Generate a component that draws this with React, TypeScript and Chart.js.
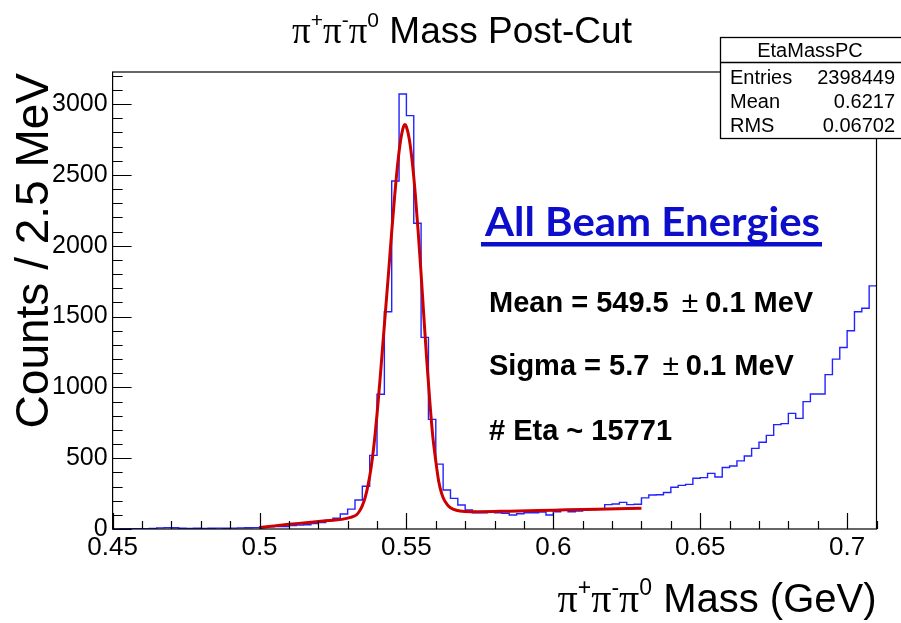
import React, { useEffect, useRef } from "react";
import { Chart, registerables } from "chart.js";

Chart.register(...registerables);

// ---- data ----
const BIN_START = 0.45; // GeV, low edge of first bin
const BIN_WIDTH = 0.0025; // GeV (2.5 MeV)
const COUNTS = [
  0, 2, 3, 2, 3, 4, 8, 10, 9, 5, 4, 5, 4, 5, 6, 5, 6, 8, 9, 10,
  14, 15, 17, 18, 25, 28, 30, 38, 45, 60, 76, 106, 140, 205, 302, 520, 951, 1534, 2457, 3071,
  2918, 2158, 1353, 774, 458, 275, 216, 169, 134, 115, 115, 122, 115, 111, 99, 108, 115, 115, 120, 99,
  122, 132, 122, 127, 134, 138, 140, 172, 176, 188, 172, 175, 220, 240, 242, 258, 295, 308, 315, 358,
  363, 393, 367, 434, 445, 481, 515, 569, 612, 661, 737, 744, 816, 781, 899, 953, 953, 1090, 1199, 1281,
  1399, 1534, 1558, 1716,
];

const FIT_MASS = [
  0.5, 0.505, 0.51, 0.515, 0.52, 0.525, 0.528, 0.531, 0.533, 0.534, 0.535, 0.536, 0.537, 0.538, 0.539,
  0.54, 0.541, 0.542, 0.543, 0.544, 0.545, 0.546, 0.547, 0.548, 0.549, 0.5495, 0.55, 0.551, 0.552,
  0.553, 0.554, 0.555, 0.556, 0.557, 0.558, 0.559, 0.56, 0.561, 0.562, 0.563, 0.564, 0.565, 0.567,
  0.57, 0.575, 0.585, 0.6, 0.615, 0.63,
];
const FIT_COUNTS = [
  10, 22, 33, 43, 53, 62, 68, 82, 100, 125, 165, 225, 315, 435, 600,
  810, 1050, 1310, 1570, 1830, 2100, 2350, 2570, 2740, 2840, 2855, 2840, 2750, 2590,
  2370, 2100, 1800, 1480, 1170, 890, 650, 480, 335, 250, 200, 170, 150, 132,
  124, 122, 126, 133, 140, 146,
];

const X_MIN = 0.45;
const X_MAX = 0.71;
const Y_MIN = 0;
const Y_MAX = 3226;
const X_TICKS = [0.45, 0.5, 0.55, 0.6, 0.65, 0.7];
const Y_TICKS = [0, 500, 1000, 1500, 2000, 2500, 3000];
const X_MINOR_STEP = 0.01;
const Y_MINOR_STEP = 100;

const STATS_NAME = "EtaMassPC";
const STATS_LABELS = ["Entries", "Mean", "RMS"];
const STATS_VALUES = ["2398449", "0.6217", "0.06702"];

const HEADLINE = "All Beam Energies";
const FIT_LABELS = ["Mean = 549.5", "Sigma = 5.7"];
const FIT_ERRORS = ["0.1 MeV", "0.1 MeV"];
const ETA_TEXT = "# Eta ~ 15771";

const SANS = "'Liberation Sans', Arial, Helvetica, sans-serif";
const SERIF = "'Liberation Serif', 'Times New Roman', serif";

type Part = { t: string; font: string; dy?: number };

function drawRich(ctx: CanvasRenderingContext2D, parts: Part[], x: number, y: number, align: "left" | "center" | "right") {
  ctx.textAlign = "left";
  ctx.textBaseline = "alphabetic";
  const widths = parts.map((p) => {
    ctx.font = p.font;
    return ctx.measureText(p.t).width;
  });
  const total = widths.reduce((a, b) => a + b, 0);
  let cx = align === "center" ? x - total / 2 : align === "right" ? x - total : x;
  parts.forEach((p, i) => {
    ctx.font = p.font;
    ctx.fillText(p.t, cx, y + (p.dy || 0));
    cx += widths[i];
  });
}

function pipipi(size: number, tail: string): Part[] {
  const sup = Math.round(size * 0.58);
  const dy = -Math.round(size * 0.42);
  return [
    { t: "\u03c0", font: `${size}px ${SERIF}` },
    { t: "+", font: `${sup}px ${SANS}`, dy },
    { t: "\u03c0", font: `${size}px ${SERIF}` },
    { t: "-", font: `${sup}px ${SANS}`, dy },
    { t: "\u03c0", font: `${size}px ${SERIF}` },
    { t: "0", font: `${sup}px ${SANS}`, dy },
    { t: tail, font: `${size}px ${SANS}` },
  ];
}

const rootStyle = {
  id: "rootStyle",
  beforeDraw(chart: any) {
    const ctx: CanvasRenderingContext2D = chart.ctx;
    ctx.save();
    ctx.fillStyle = "#ffffff";
    ctx.fillRect(0, 0, chart.width, chart.height);
    ctx.restore();
  },
  afterDraw(chart: any) {
    const ctx: CanvasRenderingContext2D = chart.ctx;
    const a = chart.chartArea;
    const xs = chart.scales.x;
    const ys = chart.scales.y;
    ctx.save();

    // frame
    ctx.strokeStyle = "#000";
    ctx.lineWidth = 1.2;
    ctx.strokeRect(a.left, a.top, a.right - a.left, a.bottom - a.top);

    // ticks (inside)
    ctx.lineWidth = 1.2;
    ctx.beginPath();
    const nx = Math.round((X_MAX - X_MIN) / X_MINOR_STEP);
    for (let i = 0; i <= nx; i++) {
      const v = X_MIN + i * X_MINOR_STEP;
      const px = Math.round(xs.getPixelForValue(v)) + 0.5;
      const major = X_TICKS.some((t) => Math.abs(t - v) < 1e-6);
      ctx.moveTo(px, a.bottom);
      ctx.lineTo(px, a.bottom - (major ? 16 : 8));
    }
    for (let v = Y_MIN; v <= Y_MAX; v += Y_MINOR_STEP) {
      const py = Math.round(ys.getPixelForValue(v)) + 0.5;
      const major = Y_TICKS.includes(v);
      ctx.moveTo(a.left, py);
      ctx.lineTo(a.left + (major ? 19 : 10), py);
    }
    ctx.stroke();

    ctx.fillStyle = "#000";
    // title
    drawRich(ctx, pipipi(37, " Mass Post-Cut"), 462, 43, "center");
    // x title
    drawRich(ctx, pipipi(40, " Mass (GeV)"), a.right, 612, "right");
    // y title
    ctx.save();
    ctx.translate(48, a.top + 1);
    ctx.rotate(-Math.PI / 2);
    ctx.font = `46px ${SANS}`;
    ctx.textAlign = "right";
    ctx.textBaseline = "alphabetic";
    ctx.fillText("Counts / 2.5 MeV", 0, 0);
    ctx.restore();

    // stats box
    const bx = 720.5, by = 37.5, bw = 190, bh = 101, sep = 62.5;
    ctx.fillStyle = "#fff";
    ctx.fillRect(bx, by, bw, bh);
    ctx.strokeStyle = "#000";
    ctx.lineWidth = 1.3;
    ctx.strokeRect(bx, by, bw, bh);
    ctx.beginPath();
    ctx.moveTo(bx, sep);
    ctx.lineTo(bx + bw, sep);
    ctx.stroke();
    ctx.fillStyle = "#000";
    ctx.font = `20px ${SANS}`;
    ctx.textBaseline = "alphabetic";
    ctx.textAlign = "center";
    ctx.fillText(STATS_NAME, 810, 57);
    STATS_LABELS.forEach((lab, i) => {
      const yb = 84 + i * 24;
      ctx.textAlign = "left";
      ctx.fillText(lab, 730, yb);
      ctx.textAlign = "right";
      ctx.fillText(STATS_VALUES[i], 895, yb);
    });

    // headline
    ctx.fillStyle = "#0d0dcc";
    ctx.font = "700 40px Lato, 'Open Sans', sans-serif";
    ctx.textAlign = "left";
    const hw = ctx.measureText(HEADLINE).width;
    ctx.save();
    ctx.translate(485, 236);
    ctx.scale(335 / hw, 1);
    ctx.fillText(HEADLINE, 0, 0);
    ctx.restore();
    ctx.fillRect(481, 242, 341, 4.5);

    // fit results
    ctx.fillStyle = "#000";
    const baselines = [312, 375];
    FIT_LABELS.forEach((lab, i) => {
      let x = 489;
      ctx.font = `700 29px ${SANS}`;
      ctx.fillText(lab, x, baselines[i]);
      x += ctx.measureText(lab).width + 13;
      ctx.font = `30px ${SANS}`;
      ctx.fillText("\u00b1", x, baselines[i]);
      x += ctx.measureText("\u00b1").width + 7;
      ctx.font = `700 29px ${SANS}`;
      ctx.fillText(FIT_ERRORS[i], x, baselines[i]);
    });
    ctx.font = `700 29px ${SANS}`;
    ctx.fillText(ETA_TEXT, 489, 440);

    ctx.restore();
  },
};

export default function App() {
  const ref = useRef<HTMLCanvasElement | null>(null);
  useEffect(() => {
    if (!ref.current) return;
    const hist = COUNTS.map((c, i) => ({ x: BIN_START + i * BIN_WIDTH, y: c }));
    hist.push({ x: BIN_START + COUNTS.length * BIN_WIDTH, y: COUNTS[COUNTS.length - 1] });
    const fit = FIT_MASS.map((m, i) => ({ x: m, y: FIT_COUNTS[i] }));
    const chart = new Chart(ref.current, {
      type: "line",
      data: {
        datasets: [
          {
            label: "fit",
            data: fit,
            borderColor: "#cc0000",
            borderWidth: 3,
            pointRadius: 0,
            fill: false,
            cubicInterpolationMode: "monotone",
          },
          {
            label: "EtaMassPC",
            data: hist,
            borderColor: "#2222ff",
            borderWidth: 1.4,
            pointRadius: 0,
            fill: false,
            stepped: "before",
          },
        ],
      },
      options: {
        animation: false,
        responsive: false,
        devicePixelRatio: 1,
        layout: { padding: { top: 72, right: 24.5, left: 0, bottom: 0 } },
        plugins: {
          legend: { display: false },
          tooltip: { enabled: false },
          title: { display: false },
        },
        scales: {
          x: {
            type: "linear",
            min: X_MIN,
            max: X_MAX,
            grid: { display: false, drawTicks: false },
            border: { display: false },
            ticks: {
              color: "#000",
              font: { family: SANS, size: 26 },
              padding: 3,
              maxRotation: 0,
              autoSkip: false,
              callback: (v: any) => String(parseFloat(Number(v).toFixed(2))),
            },
            afterBuildTicks: (s: any) => {
              s.ticks = X_TICKS.map((v) => ({ value: v }));
            },
            afterFit: (s: any) => {
              s.height = 94;
            },
          },
          y: {
            type: "linear",
            min: Y_MIN,
            max: Y_MAX,
            grid: { display: false, drawTicks: false },
            border: { display: false },
            ticks: {
              color: "#000",
              font: { family: SANS, size: 25 },
              padding: 5,
              autoSkip: false,
              callback: (v: any) => String(v),
            },
            afterBuildTicks: (s: any) => {
              s.ticks = Y_TICKS.map((v) => ({ value: v }));
            },
            afterFit: (s: any) => {
              s.width = 112.6;
            },
          },
        },
      } as any,
      plugins: [rootStyle],
    });
    return () => chart.destroy();
  }, []);
  return (
    <div style={{ position: "fixed", left: 0, top: 0, width: 901, height: 623, background: "#fff" }}>
      <canvas ref={ref} width={901} height={623} style={{ display: "block" }} />
    </div>
  );
}
